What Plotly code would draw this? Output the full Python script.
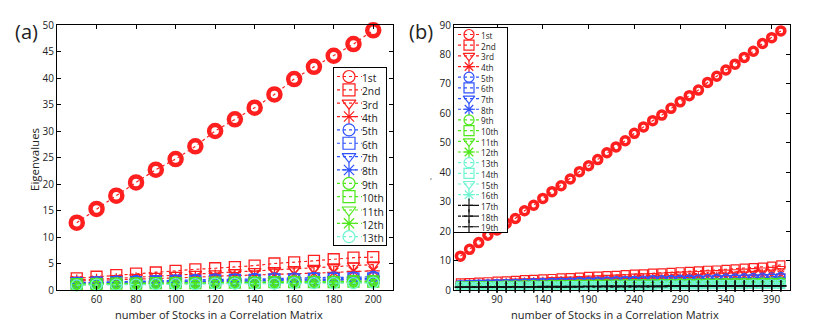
import plotly.graph_objects as go

# ── data ──────────────────────────────────────────────────────────
labels = ["1st", "2nd", "3rd", "4th", "5th", "6th", "7th", "8th", "9th", "10th",
          "11th", "12th", "13th", "14th", "15th", "16th", "17th", "18th", "19th"]

x_a = [50, 60, 70, 80, 90, 100, 110, 120, 130, 140, 150, 160, 170, 180, 190, 200]
eig_a = [
    [12.7, 15.3, 17.8, 20.3, 22.7, 24.7, 27.1, 30.0, 32.2, 34.4, 36.9, 39.8, 42.1, 44.2, 46.4, 49.0],
    [2.2, 2.5, 2.8, 3.1, 3.3, 3.6, 3.9, 4.1, 4.3, 4.6, 5.0, 5.2, 5.5, 5.8, 6.1, 6.2],
    [1.9, 2.0, 2.2, 2.4, 2.6, 2.8, 3.0, 3.1, 3.3, 3.5, 3.7, 3.9, 4.1, 4.4, 4.6, 4.8],
    [1.7, 1.8, 1.9, 2.1, 2.2, 2.3, 2.4, 2.6, 2.7, 2.8, 3.0, 3.1, 3.2, 3.3, 3.5, 3.6],
    [1.4, 1.5, 1.6, 1.7, 1.7, 1.8, 1.9, 2.0, 2.0, 2.1, 2.2, 2.2, 2.3, 2.4, 2.4, 2.5],
    [1.3, 1.4, 1.5, 1.5, 1.6, 1.7, 1.7, 1.8, 1.9, 1.9, 2.0, 2.0, 2.1, 2.1, 2.2, 2.2],
    [1.3, 1.3, 1.4, 1.5, 1.5, 1.6, 1.6, 1.7, 1.7, 1.8, 1.8, 1.9, 1.9, 2.0, 2.0, 2.1],
    [1.2, 1.3, 1.3, 1.4, 1.4, 1.5, 1.5, 1.6, 1.6, 1.7, 1.7, 1.7, 1.8, 1.8, 1.9, 1.9],
    [1.1, 1.2, 1.2, 1.3, 1.3, 1.4, 1.4, 1.4, 1.5, 1.5, 1.5, 1.6, 1.6, 1.6, 1.7, 1.7],
    [1.1, 1.1, 1.2, 1.2, 1.3, 1.3, 1.3, 1.4, 1.4, 1.4, 1.5, 1.5, 1.5, 1.5, 1.6, 1.6],
    [1.0, 1.1, 1.1, 1.2, 1.2, 1.2, 1.3, 1.3, 1.3, 1.4, 1.4, 1.4, 1.4, 1.5, 1.5, 1.5],
    [1.0, 1.0, 1.1, 1.1, 1.1, 1.2, 1.2, 1.2, 1.3, 1.3, 1.3, 1.3, 1.4, 1.4, 1.4, 1.4],
    [0.9, 1.0, 1.0, 1.0, 1.1, 1.1, 1.1, 1.2, 1.2, 1.2, 1.2, 1.3, 1.3, 1.3, 1.3, 1.4],
]

x_b = [50, 60, 70, 80, 90, 100, 110, 120, 130, 140, 150, 160, 170, 180, 190, 200, 210, 220,
       230, 240, 250, 260, 270, 280, 290, 300, 310, 320, 330, 340, 350, 360, 370, 380, 390, 400]
eig_b = [
    [11.5, 13.8, 16.1, 18.6, 20.4, 22.6, 24.3, 26.9, 28.8, 31.1, 33.4, 35.4, 37.7, 40.2, 42.2, 44.3, 46.6, 48.6,
     50.7, 53.2, 55.4, 57.5, 59.4, 61.7, 63.9, 66.0, 67.9, 70.5, 72.6, 74.7, 76.7, 79.0, 81.1, 83.7, 85.7, 88.0],
    [2.4, 2.5, 2.7, 2.8, 3.0, 3.1, 3.3, 3.5, 3.6, 3.8, 3.9, 4.1, 4.2, 4.4, 4.6, 4.7, 4.9, 5.0,
     5.2, 5.4, 5.5, 5.7, 5.8, 6.0, 6.2, 6.3, 6.5, 6.7, 6.8, 7.0, 7.2, 7.4, 7.6, 7.8, 8.1, 8.5],
    [2.2, 2.3, 2.4, 2.6, 2.7, 2.8, 3.0, 3.1, 3.2, 3.3, 3.5, 3.6, 3.7, 3.9, 4.0, 4.1, 4.3, 4.4,
     4.5, 4.7, 4.8, 4.9, 5.1, 5.2, 5.4, 5.5, 5.6, 5.8, 5.9, 6.1, 6.2, 6.4, 6.6, 6.8, 7.0, 7.3],
    [2.0, 2.1, 2.2, 2.3, 2.4, 2.5, 2.6, 2.7, 2.8, 2.9, 3.0, 3.1, 3.1, 3.2, 3.3, 3.4, 3.5, 3.6,
     3.7, 3.8, 3.9, 4.0, 4.0, 4.1, 4.2, 4.3, 4.4, 4.5, 4.6, 4.7, 4.8, 4.9, 5.0, 5.1, 5.2, 5.4],
    [1.8, 1.9, 2.0, 2.1, 2.2, 2.2, 2.3, 2.4, 2.5, 2.6, 2.6, 2.7, 2.8, 2.9, 2.9, 3.0, 3.1, 3.2,
     3.2, 3.3, 3.4, 3.5, 3.5, 3.6, 3.7, 3.8, 3.8, 3.9, 4.0, 4.1, 4.1, 4.2, 4.3, 4.4, 4.5, 4.6],
    [1.7, 1.8, 1.9, 1.9, 2.0, 2.1, 2.1, 2.2, 2.3, 2.3, 2.4, 2.5, 2.5, 2.6, 2.6, 2.7, 2.8, 2.8,
     2.9, 2.9, 3.0, 3.1, 3.1, 3.2, 3.2, 3.3, 3.4, 3.4, 3.5, 3.5, 3.6, 3.7, 3.7, 3.8, 3.9, 4.0],
    [1.6, 1.7, 1.8, 1.8, 1.9, 1.9, 2.0, 2.0, 2.1, 2.2, 2.2, 2.3, 2.3, 2.4, 2.4, 2.5, 2.5, 2.6,
     2.6, 2.7, 2.7, 2.8, 2.8, 2.9, 2.9, 3.0, 3.0, 3.1, 3.1, 3.2, 3.2, 3.3, 3.3, 3.4, 3.4, 3.5],
    [1.5, 1.6, 1.6, 1.7, 1.7, 1.8, 1.8, 1.9, 1.9, 2.0, 2.0, 2.1, 2.1, 2.2, 2.2, 2.3, 2.3, 2.3,
     2.4, 2.4, 2.5, 2.5, 2.6, 2.6, 2.6, 2.7, 2.7, 2.8, 2.8, 2.9, 2.9, 2.9, 3.0, 3.0, 3.1, 3.1],
    [1.4, 1.5, 1.5, 1.6, 1.6, 1.7, 1.7, 1.7, 1.8, 1.8, 1.9, 1.9, 1.9, 2.0, 2.0, 2.1, 2.1, 2.1,
     2.2, 2.2, 2.2, 2.3, 2.3, 2.3, 2.4, 2.4, 2.4, 2.5, 2.5, 2.5, 2.6, 2.6, 2.6, 2.7, 2.7, 2.8],
    [1.4, 1.4, 1.5, 1.5, 1.5, 1.6, 1.6, 1.7, 1.7, 1.7, 1.8, 1.8, 1.8, 1.9, 1.9, 1.9, 2.0, 2.0,
     2.0, 2.1, 2.1, 2.1, 2.2, 2.2, 2.2, 2.2, 2.3, 2.3, 2.3, 2.4, 2.4, 2.4, 2.4, 2.5, 2.5, 2.6],
    [1.3, 1.4, 1.4, 1.4, 1.5, 1.5, 1.5, 1.6, 1.6, 1.6, 1.7, 1.7, 1.7, 1.8, 1.8, 1.8, 1.8, 1.9,
     1.9, 1.9, 2.0, 2.0, 2.0, 2.0, 2.1, 2.1, 2.1, 2.1, 2.2, 2.2, 2.2, 2.3, 2.3, 2.3, 2.3, 2.4],
    [1.3, 1.3, 1.3, 1.4, 1.4, 1.4, 1.5, 1.5, 1.5, 1.5, 1.6, 1.6, 1.6, 1.7, 1.7, 1.7, 1.7, 1.8,
     1.8, 1.8, 1.8, 1.9, 1.9, 1.9, 1.9, 2.0, 2.0, 2.0, 2.0, 2.1, 2.1, 2.1, 2.1, 2.2, 2.2, 2.2],
    [1.2, 1.2, 1.3, 1.3, 1.3, 1.4, 1.4, 1.4, 1.4, 1.5, 1.5, 1.5, 1.5, 1.6, 1.6, 1.6, 1.6, 1.7,
     1.7, 1.7, 1.7, 1.7, 1.8, 1.8, 1.8, 1.8, 1.9, 1.9, 1.9, 1.9, 1.9, 2.0, 2.0, 2.0, 2.0, 2.1],
    [1.2, 1.2, 1.2, 1.2, 1.3, 1.3, 1.3, 1.3, 1.4, 1.4, 1.4, 1.4, 1.5, 1.5, 1.5, 1.5, 1.5, 1.6,
     1.6, 1.6, 1.6, 1.6, 1.7, 1.7, 1.7, 1.7, 1.7, 1.8, 1.8, 1.8, 1.8, 1.8, 1.9, 1.9, 1.9, 1.9],
    [1.1, 1.1, 1.1, 1.2, 1.2, 1.2, 1.2, 1.3, 1.3, 1.3, 1.3, 1.3, 1.4, 1.4, 1.4, 1.4, 1.4, 1.5,
     1.5, 1.5, 1.5, 1.5, 1.5, 1.6, 1.6, 1.6, 1.6, 1.6, 1.7, 1.7, 1.7, 1.7, 1.7, 1.7, 1.8, 1.8],
    [1.1, 1.1, 1.1, 1.1, 1.1, 1.2, 1.2, 1.2, 1.2, 1.2, 1.3, 1.3, 1.3, 1.3, 1.3, 1.3, 1.4, 1.4,
     1.4, 1.4, 1.4, 1.4, 1.5, 1.5, 1.5, 1.5, 1.5, 1.5, 1.6, 1.6, 1.6, 1.6, 1.6, 1.6, 1.7, 1.7],
    [1.0, 1.0, 1.0, 1.1, 1.1, 1.1, 1.1, 1.1, 1.1, 1.2, 1.2, 1.2, 1.2, 1.2, 1.2, 1.2, 1.3, 1.3,
     1.3, 1.3, 1.3, 1.3, 1.3, 1.4, 1.4, 1.4, 1.4, 1.4, 1.4, 1.4, 1.5, 1.5, 1.5, 1.5, 1.5, 1.5],
    [1.0, 1.0, 1.0, 1.0, 1.0, 1.0, 1.1, 1.1, 1.1, 1.1, 1.1, 1.1, 1.1, 1.1, 1.2, 1.2, 1.2, 1.2,
     1.2, 1.2, 1.2, 1.2, 1.2, 1.3, 1.3, 1.3, 1.3, 1.3, 1.3, 1.3, 1.3, 1.3, 1.4, 1.4, 1.4, 1.4],
    [0.9, 0.9, 0.9, 0.9, 1.0, 1.0, 1.0, 1.0, 1.0, 1.0, 1.0, 1.0, 1.0, 1.1, 1.1, 1.1, 1.1, 1.1,
     1.1, 1.1, 1.1, 1.1, 1.1, 1.2, 1.2, 1.2, 1.2, 1.2, 1.2, 1.2, 1.2, 1.2, 1.2, 1.3, 1.3, 1.3],
]

x_ticks_a = [60, 80, 100, 120, 140, 160, 180, 200]
y_ticks_a = [0, 5, 10, 15, 20, 25, 30, 35, 40, 45, 50]
x_ticks_b = [90, 140, 190, 240, 290, 340, 390]
y_ticks_b = [0, 10, 20, 30, 40, 50, 60, 70, 80, 90]

# ── styles ────────────────────────────────────────────────────────
RED, BLUE, GREEN, CYAN, BLACK = "#ff1f1f", "#2f52ff", "#4ee81a", "#6ff5d2", "#111111"
group_colors = [RED, BLUE, GREEN, CYAN]
shapes4 = ["circle-open", "square-open", "triangle-down-open", "asterisk-open"]


def style(i):
    if i >= 16:
        return BLACK, "cross-thin-open"
    return group_colors[i // 4], shapes4[i % 4]


W, H = 831, 326
FONT = "'Open Sans', sans-serif"


def px_x(p):
    return p / W


def px_y(p):
    return 1 - p / H


fig = go.Figure()

# panel (a)
for i, ys in enumerate(eig_a):
    c, sym = style(i)
    big = i == 0
    fig.add_trace(go.Scatter(
        x=x_a, y=ys, mode="lines+markers", xaxis="x", yaxis="y",
        line=dict(color=c, width=1.2, dash="dot"),
        marker=dict(symbol=sym, size=12 if big else 11, color=c,
                    line=dict(color=c, width=4.5 if big else 1.3)),
        cliponaxis=False, showlegend=False, hoverinfo="skip"))

# panel (b)
for i, ys in enumerate(eig_b):
    c, sym = style(i)
    big = i == 0
    fig.add_trace(go.Scatter(
        x=x_b, y=ys, mode="lines+markers", xaxis="x2", yaxis="y2",
        line=dict(color=c, width=1.2, dash="dot"),
        marker=dict(symbol=sym, size=8, color=c,
                    line=dict(color=c, width=3.5 if big else 1.2)),
        cliponaxis=False, showlegend=False, hoverinfo="skip"))


# ── hand-drawn legends (MATLAB look) ──────────────────────────────
def add_legend(xa, ya, n, box, row0, step, sym_x, line_x, text_x, msize):
    x0, x1, y0, y1 = box
    # white background so the legend covers the data below it
    fig.add_trace(go.Scatter(x=[x0, x1, x1, x0, x0], y=[y0, y0, y1, y1, y0],
                             mode="lines", fill="toself", fillcolor="white",
                             line=dict(width=0), xaxis=xa, yaxis=ya,
                             showlegend=False, hoverinfo="skip"))
    for i in range(n):
        c, sym = style(i)
        yy = row0 + i * step
        fig.add_trace(go.Scatter(x=list(line_x), y=[yy, yy], mode="lines",
                                 line=dict(color=c, width=1.2, dash="dot"),
                                 xaxis=xa, yaxis=ya, showlegend=False, hoverinfo="skip"))
        fig.add_trace(go.Scatter(x=[sym_x], y=[yy], mode="markers",
                                 marker=dict(symbol=sym, size=msize, color=c,
                                             line=dict(color=c, width=1.2)),
                                 xaxis=xa, yaxis=ya, showlegend=False, hoverinfo="skip"))
    # one text block; plotly spaces lines at 1.3 x font size
    fig.add_annotation(x=text_x, y=row0 - step / 2, xref=xa, yref=ya,
                       text="<br>".join(labels[:n]), align="left",
                       showarrow=False, xanchor="left", yanchor="top", borderpad=0,
                       font=dict(size=step / 1.3, color="#222", family=FONT))


add_legend("x3", "y3", 13, (334, 386, 68, 245), 76.5, 13.35, 349, (337, 362), 361, 12)
add_legend("x4", "y4", 19, (454, 507, 28, 232), 34.5, 10.68, 469, (458, 480), 480, 10)

axis_common = dict(showline=True, linecolor="black", linewidth=1.2, mirror="ticks",
                   ticks="inside", ticklen=4, tickcolor="black", showgrid=False,
                   zeroline=False, automargin=False,
                   tickfont=dict(size=10, color="#222", family=FONT))
leg_axis = dict(showline=True, linecolor="black", linewidth=1.2, mirror=True,
                ticks="", showticklabels=False, showgrid=False, zeroline=False,
                automargin=False)

fig.update_layout(
    width=W, height=H,
    margin=dict(l=0, r=0, t=0, b=0, autoexpand=False),
    paper_bgcolor="white", plot_bgcolor="white",
    font=dict(family=FONT, color="#222"),
    showlegend=False,
    xaxis=dict(domain=[px_x(57), px_x(393)], range=[40, 210], tickvals=x_ticks_a,
               anchor="y", **axis_common),
    yaxis=dict(domain=[px_y(290), px_y(25)], range=[0, 50], tickvals=y_ticks_a,
               anchor="x", **axis_common),
    xaxis2=dict(domain=[px_x(454), px_x(790)], range=[43, 410], tickvals=x_ticks_b,
                anchor="y2", **axis_common),
    yaxis2=dict(domain=[px_y(290), px_y(25)], range=[0, 90], tickvals=y_ticks_b,
                anchor="x2", **axis_common),
    xaxis3=dict(domain=[px_x(334), px_x(386)], range=[334, 386], anchor="y3", **leg_axis),
    yaxis3=dict(domain=[px_y(245), px_y(68)], range=[245, 68], anchor="x3", **leg_axis),
    xaxis4=dict(domain=[px_x(454), px_x(507)], range=[454, 507], anchor="y4", **leg_axis),
    yaxis4=dict(domain=[px_y(232), px_y(28)], range=[232, 28], anchor="x4", **leg_axis),
)

# titles and panel labels
texts = [
    dict(text="(a)", x=px_x(26), y=px_y(32), size=20),
    dict(text="(b)", x=px_x(421), y=px_y(32), size=20),
    dict(text="number of Stocks in a Correlation Matrix", x=px_x(219), y=px_y(314), size=11),
    dict(text="number of Stocks in a Correlation Matrix", x=px_x(615), y=px_y(314), size=11),
    dict(text=",", x=px_x(431), y=px_y(175), size=8),
]
for t in texts:
    fig.add_annotation(text=t["text"], x=t["x"], y=t["y"], xref="paper", yref="paper",
                       showarrow=False, xanchor="center", yanchor="middle",
                       font=dict(size=t["size"], color="#222", family=FONT))
fig.add_annotation(text="Eigenvalues", x=px_x(34), y=px_y(160), xref="paper", yref="paper",
                   showarrow=False, textangle=-90, xanchor="center", yanchor="middle",
                   font=dict(size=11.5, color="#222", family=FONT))

# drop the default page margin so the figure sits at the window's corner
fig.write_html("out.html", config={"displayModeBar": False},
               post_script="document.body.style.margin='0';")
